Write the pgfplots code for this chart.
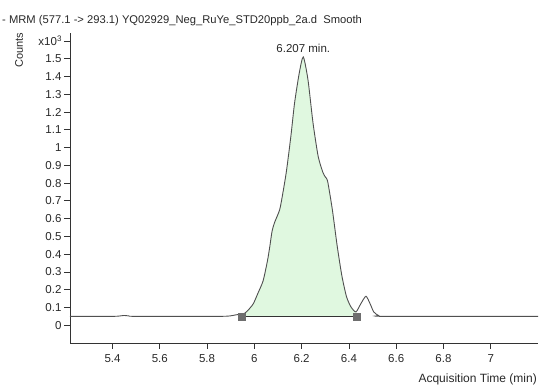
\documentclass[border=0pt]{standalone}
\usepackage{fontspec}
\setmainfont{Liberation Sans}
\usepackage{pgfplots}
\pgfplotsset{compat=1.18}
\definecolor{txt}{RGB}{40,40,40}
\definecolor{curve}{RGB}{80,80,80}
\definecolor{peakfill}{RGB}{224,248,224}
\definecolor{sq}{RGB}{110,110,110}
\pgfplotstableread{
x y
5.22 0.050
5.40 0.050
5.43 0.052
5.45 0.055
5.47 0.052
5.50 0.050
5.85 0.050
5.90 0.053
5.93 0.060
5.945 0.055
5.97 0.080
5.995 0.120
6.015 0.180
6.037 0.250
6.055 0.360
6.065 0.440
6.075 0.530
6.086 0.580
6.107 0.650
6.12 0.740
6.136 0.870
6.155 1.070
6.17 1.250
6.19 1.420
6.207 1.510
6.227 1.380
6.248 1.140
6.27 0.950
6.29 0.860
6.30 0.835
6.31 0.810
6.33 0.650
6.35 0.450
6.37 0.280
6.39 0.160
6.41 0.100
6.43 0.075
6.45 0.120
6.472 0.163
6.49 0.120
6.505 0.075
6.525 0.055
6.55 0.050
7.2 0.050
}\chrom
\pgfplotstableread{
x y
5.945 0.050
5.97 0.080
5.995 0.120
6.015 0.180
6.037 0.250
6.055 0.360
6.065 0.440
6.075 0.530
6.086 0.580
6.107 0.650
6.12 0.740
6.136 0.870
6.155 1.070
6.17 1.250
6.19 1.420
6.207 1.510
6.227 1.380
6.248 1.140
6.27 0.950
6.29 0.860
6.30 0.835
6.31 0.810
6.33 0.650
6.35 0.450
6.37 0.280
6.39 0.160
6.41 0.100
6.43 0.075
6.435 0.050
}\area
\begin{document}
\begin{tikzpicture}
\useasboundingbox (0pt,0pt) rectangle (539pt,387pt);
\node[anchor=west,text=txt,font=\fontsize{11.2}{13}\selectfont,inner sep=0] at (2pt,366pt) {- MRM (577.1 -> 293.1) YQ02929\_Neg\_RuYe\_STD20ppb\_2a.d\ \ Smooth};
\node[rotate=90,text=txt,font=\fontsize{11}{13}\selectfont,inner sep=0] at (19pt,337pt) {Counts};
\node[anchor=east,text=txt,font=\fontsize{12}{14}\selectfont,inner sep=0] at (537pt,8pt) {Acquisition Time (min)};
\begin{axis}[
  at={(70pt,44pt)}, anchor=south west, scale only axis,
  width=468pt, height=310pt,
  xmin=5.22, xmax=7.2, ymin=-0.1, ymax=1.645,
  axis x line*=bottom, axis y line*=left,
  axis line style={-, black!80, line width=0.8pt},
  tick style={black!80, line width=0.8pt},
  tick align=outside, major tick length=6pt,
  xtick={5.4,5.6,5.8,6,6.2,6.4,6.6,6.8,7},
  xticklabels={5.4,5.6,5.8,6,6.2,6.4,6.6,6.8,7},
  ytick={0,0.1,0.2,0.3,0.4,0.5,0.6,0.7,0.8,0.9,1,1.1,1.2,1.3,1.4,1.5,1.6},
  yticklabels={0,0.1,0.2,0.3,0.4,0.5,0.6,0.7,0.8,0.9,1,1.1,1.2,1.3,1.4,1.5,{x10\raisebox{0.6ex}{\fontsize{8}{9}\selectfont 3}}},
  ticklabel style={text=txt, font=\fontsize{11.5}{13}\selectfont},
  xticklabel style={yshift=-2pt},
  yticklabel style={xshift=1pt},
  /pgf/number format/assume math mode=true,
  clip=false,
]
\addplot[fill=peakfill, draw=none, smooth, tension=0.4] table {\area} -- cycle;
\addplot[curve, line width=0.9pt, smooth, tension=0.4] table {\chrom};
\addplot[black!80, line width=0.9pt] coordinates {(5.945,0.05) (6.435,0.05)};
\addplot[only marks, mark=square*, mark size=3.5pt, mark options={fill=sq, draw=sq}] coordinates {(5.945,0.05) (6.435,0.05)};
\node[anchor=south,text=txt,font=\fontsize{11.5}{13}\selectfont,inner sep=0] at (axis cs:6.207,1.535) {6.207 min.};
\end{axis}
\end{tikzpicture}
\end{document}
